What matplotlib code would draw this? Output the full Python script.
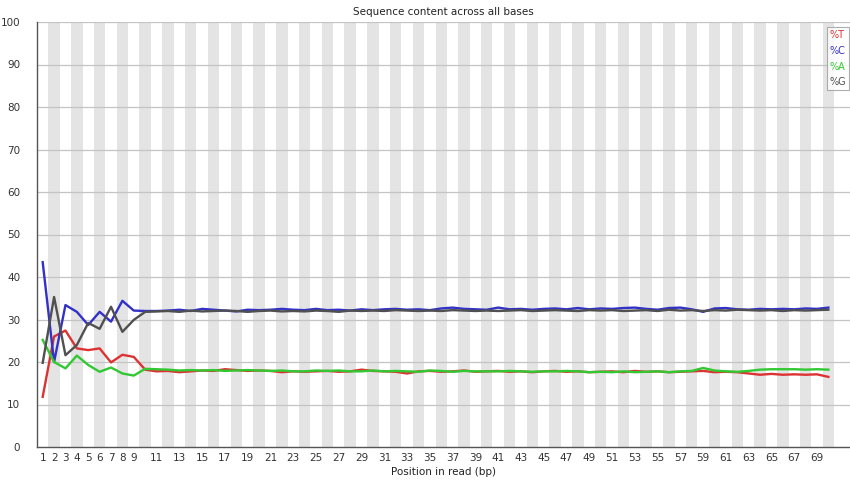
import matplotlib
matplotlib.use("Agg")
import matplotlib.pyplot as plt

# % de chaque base par position (lecture sur l'image)
positions = list(range(1, 71))

pct_T = [11.8, 26.0, 27.4, 23.2, 22.8, 23.2, 19.9, 21.7, 21.2, 18.2,
         17.8, 17.9, 17.6, 17.8, 18.0, 17.9, 18.3, 18.1, 17.9, 18.0,
         17.9, 17.6, 17.8, 17.7, 17.8, 17.9, 17.7, 17.8, 18.2, 17.9,
         17.8, 17.7, 17.3, 17.8, 17.9, 17.7, 17.8, 18.0, 17.7, 17.8,
         17.9, 17.7, 17.8, 17.6, 17.8, 17.9, 17.7, 17.8, 17.6, 17.7,
         17.8, 17.6, 17.9, 17.7, 17.8, 17.6, 17.7, 17.8, 17.9, 17.6,
         17.7, 17.6, 17.3, 17.0, 17.2, 17.0, 17.1, 17.0, 17.1, 16.5]

pct_C = [43.5, 20.0, 33.4, 31.8, 28.7, 31.8, 29.5, 34.4, 32.1, 32.0,
         32.0, 32.1, 32.3, 32.0, 32.5, 32.3, 32.1, 31.9, 32.3, 32.2,
         32.3, 32.5, 32.3, 32.2, 32.5, 32.2, 32.3, 32.1, 32.4, 32.2,
         32.4, 32.5, 32.3, 32.4, 32.2, 32.6, 32.8, 32.5, 32.4, 32.3,
         32.8, 32.4, 32.5, 32.3, 32.5, 32.6, 32.4, 32.7, 32.4, 32.6,
         32.5, 32.7, 32.8, 32.5, 32.3, 32.7, 32.8, 32.4, 31.8, 32.6,
         32.7, 32.4, 32.3, 32.5, 32.4, 32.5, 32.4, 32.6, 32.5, 32.8]

pct_A = [25.2, 20.0, 18.5, 21.5, 19.3, 17.7, 18.7, 17.3, 16.8, 18.4,
         18.3, 18.2, 18.0, 18.1, 18.0, 18.1, 17.9, 18.0, 18.1, 18.0,
         17.9, 18.0, 17.8, 17.8, 18.0, 17.9, 18.0, 17.8, 17.8, 18.0,
         17.8, 17.9, 17.8, 17.7, 18.0, 17.9, 17.7, 17.9, 17.8, 17.8,
         17.8, 17.9, 17.8, 17.7, 17.8, 17.8, 17.9, 17.8, 17.6, 17.7,
         17.6, 17.8, 17.6, 17.7, 17.8, 17.6, 17.8, 17.9, 18.6, 18.0,
         17.8, 17.7, 17.9, 18.2, 18.3, 18.3, 18.3, 18.2, 18.3, 18.2]

pct_G = [19.8, 35.3, 21.6, 24.0, 29.2, 27.8, 33.0, 27.1, 29.9, 31.8,
         31.9, 32.0, 31.8, 32.1, 31.9, 32.0, 32.1, 32.0, 31.8, 32.0,
         32.1, 31.9, 32.0, 31.9, 32.1, 32.0, 31.8, 32.1, 32.0, 32.1,
         32.0, 32.2, 32.1, 32.0, 32.1, 32.0, 32.2, 32.1, 32.0, 32.1,
         32.0, 32.1, 32.2, 32.0, 32.1, 32.2, 32.1, 32.0, 32.2, 32.1,
         32.2, 32.0, 32.1, 32.2, 32.0, 32.3, 32.1, 32.2, 32.0, 32.2,
         32.1, 32.3, 32.2, 32.1, 32.2, 32.0, 32.2, 32.1, 32.2, 32.3]

xtick_labels = [str(p) for p in range(1, 10)] + [str(p) for p in range(11, 70, 2)]
yticks = list(range(0, 101, 10))

RED, BLUE, GREEN, GREY = "#dc3232", "#3232c8", "#32c832", "#505050"

fig = plt.figure(figsize=(8.5, 4.8), dpi=100)
ax = fig.add_axes([37 / 850, 33 / 480, 813 / 850, 425 / 480])

# bandes grises sur les positions paires
for p in positions:
    if p % 2 == 0:
        ax.axvspan(p - 0.5, p + 0.5, color="#e4e4e4", lw=0, zorder=0)
for y in yticks[1:]:
    ax.axhline(y, color="#c4c4c4", lw=0.9, zorder=1)

ax.plot(positions, pct_T, color=RED, lw=1.7, label="%T", zorder=3)
ax.plot(positions, pct_C, color=BLUE, lw=1.7, label="%C", zorder=3)
ax.plot(positions, pct_A, color=GREEN, lw=1.7, label="%A", zorder=3)
ax.plot(positions, pct_G, color=GREY, lw=1.7, label="%G", zorder=3)

ax.set_xlim(0.5, 71.9)
ax.set_ylim(0, 100)
ax.set_yticks(yticks)
ax.set_xticks([int(t) for t in xtick_labels])
ax.set_xticklabels(xtick_labels)
ax.tick_params(length=0, labelsize=7.5, colors="#333333")
ax.tick_params(axis="y", pad=12)
ax.tick_params(axis="x", pad=4)
for s in ["top", "right"]:
    ax.spines[s].set_visible(False)
for s in ["left", "bottom"]:
    ax.spines[s].set_color("#555555")
    ax.spines[s].set_linewidth(1.0)

ax.set_title("Sequence content across all bases", fontsize=7.5, pad=5, color="#222222")
ax.set_xlabel("Position in read (bp)", fontsize=7.5, labelpad=3, color="#222222")

leg = ax.legend(loc="upper right", bbox_to_anchor=(849 / 850, 1 - 27 / 480),
                bbox_transform=fig.transFigure, handlelength=0, handletextpad=0,
                labelcolor="linecolor", fontsize=7, frameon=True, fancybox=False,
                borderpad=0.3, borderaxespad=0, labelspacing=0.6)
leg.get_frame().set_edgecolor("#999999")
leg.get_frame().set_linewidth(0.8)
for h in leg.legend_handles:
    h.set_visible(False)

fig.savefig("out.png", dpi=100)
